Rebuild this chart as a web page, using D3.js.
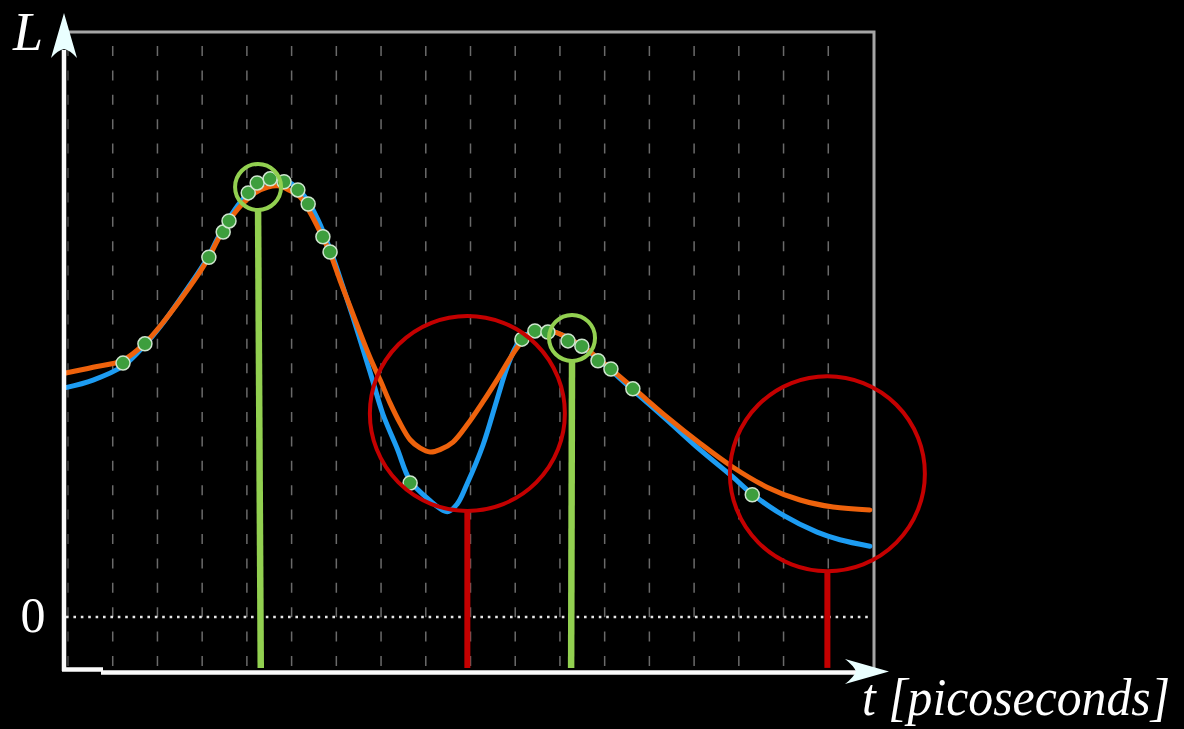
<!DOCTYPE html>
<html>
<head>
<meta charset="utf-8">
<script src="https://cdn.jsdelivr.net/npm/d3@7"></script>
<style>
    html, body { margin: 0; padding: 0; background: #000; }
    svg { display: block; }
</style>
</head>
<body>
<div id="chart"></div>
<script>
// curves (t in grid steps, L in arbitrary units)
const orangeT = [-0.05, 0.56, 1.23, 1.72, 2.12, 2.50, 2.89, 3.15, 3.35, 3.58, 3.85, 4.18, 4.47, 4.70,
    4.96, 5.19, 5.41, 5.64, 5.86, 6.08, 6.31, 6.53, 6.75, 6.98, 7.20, 7.42, 7.65, 7.87, 8.10, 8.32,
    8.61, 8.92, 9.28, 9.59, 9.95, 10.26, 10.56, 10.89, 11.23, 11.56, 11.90, 12.63, 13.39, 14.13,
    14.87, 15.63, 16.37, 17.11, 17.93];
const orangeL = [4.17, 4.27, 4.39, 4.68, 5.03, 5.41, 5.83, 6.15, 6.45, 6.75, 7.02, 7.25, 7.35, 7.37,
    7.29, 7.18, 6.92, 6.58, 6.22, 5.76, 5.30, 4.86, 4.44, 4.05, 3.66, 3.32, 3.03, 2.89, 2.82, 2.86,
    2.99, 3.28, 3.68, 4.05, 4.50, 4.80, 4.91, 4.87, 4.75, 4.60, 4.39, 3.92, 3.42, 2.97,
    2.56, 2.22, 2.00, 1.88, 1.83];

const blueT = [-0.05, 0.56, 1.23, 1.72, 2.12, 2.50, 2.89, 3.15, 3.35, 3.58, 3.85, 4.18, 4.47, 4.74,
    5.01, 5.30, 5.59, 5.93, 6.15, 6.37, 6.60, 6.82, 7.04, 7.36, 7.65, 8.05, 8.48, 8.70, 8.92, 9.28,
    9.59, 9.82, 10.04, 10.29, 10.56, 10.89, 11.23, 11.56, 11.90, 12.63, 13.39, 14.13, 14.87, 15.30,
    15.99, 16.75, 17.26, 17.93];
const blueL = [3.92, 4.05, 4.29, 4.65, 5.02, 5.43, 5.86, 6.18, 6.48, 6.79, 7.09, 7.35, 7.47, 7.49,
    7.40, 7.18, 6.79, 6.14, 5.64, 5.13, 4.57, 4.02, 3.47, 2.88, 2.33, 2.02, 1.80, 1.93, 2.27, 2.94,
    3.71, 4.27, 4.65, 4.84, 4.91, 4.87, 4.75, 4.58, 4.38, 3.88, 3.37, 2.86, 2.39, 2.10,
    1.74, 1.45, 1.32, 1.21];

// sampled points
const dotT = [1.23, 1.72, 3.15, 3.47, 3.60, 4.03, 4.23, 4.52, 4.83, 5.14, 5.37, 5.70, 5.86,
    7.65, 10.15, 10.44, 10.73, 11.18, 11.49, 11.85, 12.14, 12.63, 15.30];
const dotL = [4.34, 4.67, 6.15, 6.58, 6.77, 7.25, 7.42, 7.49, 7.44, 7.30, 7.06, 6.50, 6.24,
    2.29, 4.75, 4.89, 4.87, 4.72, 4.63, 4.38, 4.24, 3.90, 2.09];

// highlighted spots: good (green) and bad (red)
const goodT = [4.25, 11.27];
const goodL = [7.35, 4.77];
const goodFootT = [4.31, 11.25];
const badT = [8.93, 16.98];
const badL = [3.48, 2.45];
const stemBaseL = -0.87;

const gridTicks = d3.range(0, 18);
const zeroLabel = '0';
const yLabel = 'L';
const xLabel = 't [picoseconds]';

const width = 1184;
const height = 729;

const svg = d3.select('#chart').append('svg')
    .attr('width', width)
    .attr('height', height)
    .style('background', '#000');

const x = d3.scaleLinear().domain([0, 18]).range([68, 873]);
const y = d3.scaleLinear().domain([0, 10]).range([617, 32]);

// dashed verticals
svg.append('g').selectAll('line')
    .data(gridTicks)
    .join('line')
    .attr('x1', d => x(d)).attr('x2', d => x(d))
    .attr('y1', 46).attr('y2', 668)
    .attr('stroke', d => d === 0 ? '#444' : '#6a6a6a')
    .attr('stroke-width', 1.5)
    .attr('stroke-dasharray', '10 14.4');

// frame (top and right)
svg.append('path')
    .attr('d', `M66,${y(10)}H${x(18) + 1}V669`)
    .attr('fill', 'none')
    .attr('stroke', '#a5a5a5')
    .attr('stroke-width', 3);

// zero line
svg.append('line')
    .attr('x1', 66).attr('x2', x(18) - 1)
    .attr('y1', y(0)).attr('y2', y(0))
    .attr('stroke', '#e6e6e6')
    .attr('stroke-width', 2.5)
    .attr('stroke-dasharray', '2.6 4.8');

// curves
const line = d3.line()
    .x(d => x(d[0]))
    .y(d => y(d[1]))
    .curve(d3.curveCatmullRom.alpha(0.5));

svg.append('path')
    .datum(d3.zip(blueT, blueL))
    .attr('d', line)
    .attr('fill', 'none')
    .attr('stroke', '#1d9cf2')
    .attr('stroke-width', 5)
    .attr('stroke-linecap', 'round');

svg.append('path')
    .datum(d3.zip(orangeT, orangeL))
    .attr('d', line)
    .attr('fill', 'none')
    .attr('stroke', '#ee620c')
    .attr('stroke-width', 5)
    .attr('stroke-linecap', 'round');

// sample dots
svg.append('g').selectAll('circle')
    .data(d3.zip(dotT, dotL))
    .join('circle')
    .attr('cx', d => x(d[0]))
    .attr('cy', d => y(d[1]))
    .attr('r', 7)
    .attr('fill', '#3d9e3d')
    .attr('stroke', '#cfe6cf')
    .attr('stroke-width', 1.5);

// markers: ring plus stem down to the axis
function drawMarkers(ts, ls, foots, r, color, strokeW, stemW) {
    const g = svg.append('g');
    ts.forEach((t, i) => {
        g.append('line')
            .attr('x1', x(t)).attr('y1', y(ls[i]) + r)
            .attr('x2', x(foots[i])).attr('y2', y(stemBaseL))
            .attr('stroke', color)
            .attr('stroke-width', stemW);
        g.append('circle')
            .attr('cx', x(t)).attr('cy', y(ls[i]))
            .attr('r', r)
            .attr('fill', 'none')
            .attr('stroke', color)
            .attr('stroke-width', strokeW);
    });
}
drawMarkers(goodT, goodL, goodFootT, 23, '#92d050', 4, 6.5);
drawMarkers(badT, badL, badT, 97.5, '#c40000', 4, 6);

// axes with arrows
svg.append('path')
    .attr('d', 'M62,669.5H103 M64,671V50 M101,672.5H862')
    .attr('fill', 'none')
    .attr('stroke', '#fafafa')
    .attr('stroke-width', 4.5);

svg.append('path')
    .attr('d', 'M64,13 L77,58 Q70,50 64,49 Q58,50 51,58 Z')
    .attr('fill', '#eaffff');

svg.append('path')
    .attr('d', 'M889,671.5 L845,659 Q854,666 856,671.5 Q854,677 845,684 Z')
    .attr('fill', '#eaffff');

// labels
svg.append('text')
    .attr('x', 13).attr('y', 50)
    .attr('font-family', 'Liberation Serif, serif')
    .attr('font-style', 'italic')
    .attr('font-size', 54)
    .attr('fill', '#fff')
    .text(yLabel);

svg.append('text')
    .attr('x', 33).attr('y', 632)
    .attr('text-anchor', 'middle')
    .attr('font-family', 'Liberation Serif, serif')
    .attr('font-size', 50)
    .attr('fill', '#fff')
    .text(zeroLabel);

svg.append('text')
    .attr('x', 862).attr('y', 715)
    .attr('font-family', 'Liberation Serif, serif')
    .attr('font-style', 'italic')
    .attr('font-size', 52)
    .attr('fill', '#fff')
    .attr('textLength', 308)
    .attr('lengthAdjust', 'spacingAndGlyphs')
    .text(xLabel);
</script>
</body>
</html>
